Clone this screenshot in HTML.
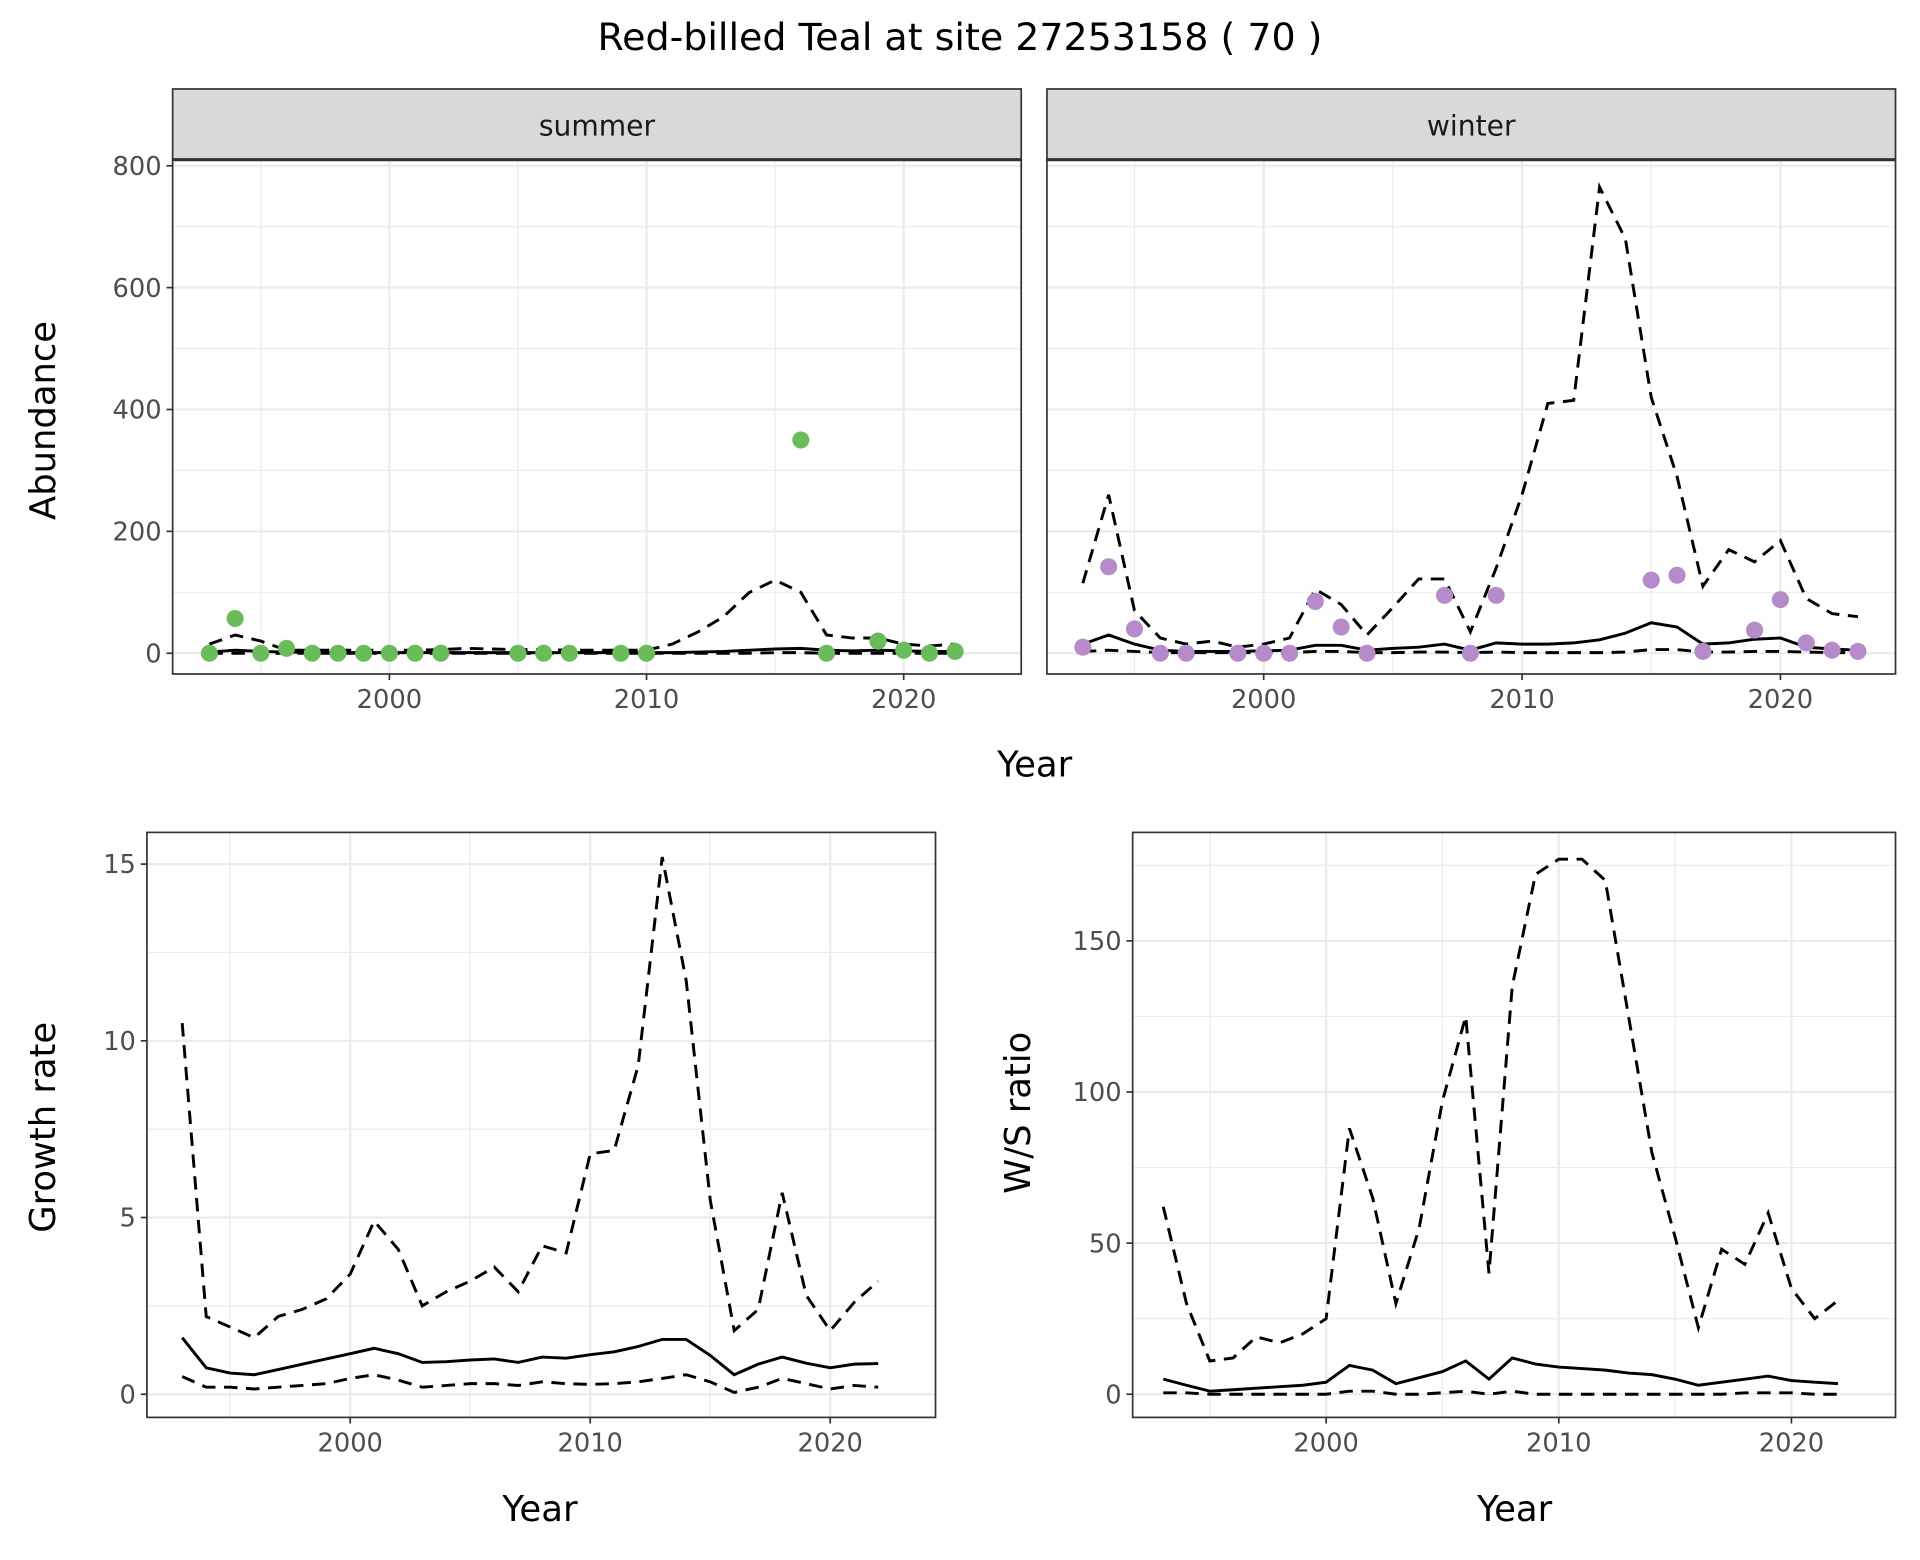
<!DOCTYPE html>
<html><head><meta charset="utf-8"><style>
html,body{margin:0;padding:0;background:#fff;}
svg{display:block;}
text{font-family:"DejaVu Sans","Liberation Sans",sans-serif;}
</style></head><body>
<svg id="chart" xmlns="http://www.w3.org/2000/svg" width="1920" height="1560" viewBox="0 0 1568 1280" preserveAspectRatio="none">
<rect x="0" y="0" width="1568" height="1280" fill="#fff"/>
<text x="784" y="41" text-anchor="middle" font-size="31" fill="#000">Red-billed Teal at site 27253158 ( 70 )</text>
</svg>
<script>
const summerYears=[1993,1994,1995,1996,1997,1998,1999,2000,2001,2002,2003,2004,2005,2006,2007,2008,2009,2010,2011,2012,2013,2014,2015,2016,2017,2018,2019,2020,2021,2022];
const summerUpper=[15,30,20,5,5,5,5,5,5,6,8,7,6,6,5,5,5,5,15,35,60,100,120,100,30,25,25,15,12,15];
const summerMean=[2,5,3,2,1,1,1,1,1,1,1,1,1,1,1,1,1,1,1,2,3,5,7,8,5,4,5,4,3,3];
const summerLower=[0,0,0,0,0,0,0,0,0,0,0,0,0,0,0,0,0,0,0,0,0,0,1,1,0,0,0,0,0,0];
const summerPtYears=[1993,1994,1995,1996,1997,1998,1999,2000,2001,2002,2005,2006,2007,2009,2010,2016,2017,2019,2020,2021,2022];
const summerPts=[0,57,0,8,0,0,0,0,0,0,0,0,0,0,0,350,0,20,5,0,3];
const winterYears=[1993,1994,1995,1996,1997,1998,1999,2000,2001,2002,2003,2004,2005,2006,2007,2008,2009,2010,2011,2012,2013,2014,2015,2016,2017,2018,2019,2020,2021,2022,2023];
const winterUpper=[115,260,70,25,15,20,10,15,25,105,80,30,75,122,122,35,140,260,410,415,765,680,420,290,110,170,150,185,90,65,60];
const winterMean=[15,30,15,5,3,3,3,4,5,13,13,5,8,10,15,5,17,15,15,17,22,33,50,43,15,17,23,25,10,7,5];
const winterLower=[3,5,3,1,1,1,1,1,1,3,3,1,1,2,2,1,2,1,1,1,1,2,6,6,2,2,3,3,2,1,1];
const winterPtYears=[1993,1994,1995,1996,1997,1999,2000,2001,2002,2003,2004,2007,2008,2009,2015,2016,2017,2019,2020,2021,2022,2023];
const winterPts=[10,142,40,0,0,0,0,0,85,43,0,95,0,95,120,128,3,38,88,17,5,3];
const gYears=[1993,1994,1995,1996,1997,1998,1999,2000,2001,2002,2003,2004,2005,2006,2007,2008,2009,2010,2011,2012,2013,2014,2015,2016,2017,2018,2019,2020,2021,2022];
const growthUpper=[10.5,2.2,1.9,1.6,2.2,2.4,2.7,3.4,4.9,4.1,2.5,2.9,3.2,3.6,2.9,4.2,4.0,6.8,6.9,9.3,15.2,11.7,5.5,1.8,2.4,5.7,2.8,1.8,2.6,3.2];
const growthMean=[1.6,0.75,0.6,0.55,0.7,0.85,1.0,1.15,1.3,1.15,0.9,0.92,0.97,1.0,0.9,1.05,1.02,1.12,1.2,1.35,1.55,1.55,1.1,0.55,0.85,1.05,0.88,0.75,0.85,0.87];
const growthLower=[0.5,0.2,0.2,0.15,0.2,0.25,0.3,0.45,0.55,0.4,0.2,0.25,0.3,0.3,0.25,0.35,0.3,0.28,0.3,0.35,0.45,0.55,0.35,0.05,0.2,0.45,0.3,0.15,0.25,0.2];
const wsUpper=[62,30,11,12,19,17,20,25,88,65,30,55,97,125,40,135,172,177,177,170,125,80,52,22,48,43,60,35,25,31];
const wsMean=[5,3,1,1.5,2,2.5,3,4,9.5,8,3.5,5.5,7.5,11,5,12,10,9,8.5,8,7,6.5,5,3,4,5,6,4.5,4,3.5];
const wsLower=[0.5,0.5,0,0,0,0,0,0,1,1,0,0,0.5,1,0,1,0,0,0,0,0,0,0,0,0,0.5,0.5,0.5,0,0];
const abTicks=[0,200,400,600,800];
const grTicks=[0,5,10,15];
const wsTicks=[0,50,100,150];
const yearTicks=[2000,2010,2020];

const svg=document.getElementById('chart');
const NS='http://www.w3.org/2000/svg';
function el(tag,attrs,parent){const e=document.createElementNS(NS,tag);for(const k in attrs)e.setAttribute(k,attrs[k]);(parent||svg).appendChild(e);return e;}
function lin(d0,d1,r0,r1){return v=>r0+(v-d0)*(r1-r0)/(d1-d0);}

function panel(name,x0,x1,y0,y1,xs,ys,yt,showY,minorY){
  const g=el('g',{});
  
  
  el('rect',{x:x0,y:y0,width:x1-x0,height:y1-y0,fill:'#fff'},g);
  [1995,2005,2015].forEach(v=>el('line',{x1:xs(v),x2:xs(v),y1:y0,y2:y1,stroke:'#ebebeb','stroke-width':0.9},g));
  minorY.forEach(v=>el('line',{x1:x0,x2:x1,y1:ys(v),y2:ys(v),stroke:'#ebebeb','stroke-width':0.9},g));
  yearTicks.forEach(v=>el('line',{x1:xs(v),x2:xs(v),y1:y0,y2:y1,stroke:'#ebebeb','stroke-width':1.8},g));
  yt.forEach(v=>el('line',{x1:x0,x2:x1,y1:ys(v),y2:ys(v),stroke:'#ebebeb','stroke-width':1.8},g));
  yearTicks.forEach(v=>{
    el('line',{x1:xs(v),x2:xs(v),y1:y1,y2:y1+5,stroke:'#333','stroke-width':1.4});
    const t=el('text',{x:xs(v),y:y1+28,'text-anchor':'middle','font-size':21,fill:'#4d4d4d'});
    
    
    t.textContent=v;
  });
  if(showY) yt.forEach(v=>{
    el('line',{x1:x0-5,x2:x0,y1:ys(v),y2:ys(v),stroke:'#333','stroke-width':1.4});
    const t=el('text',{x:x0-9,y:ys(v)+7.5,'text-anchor':'end','font-size':21,fill:'#4d4d4d'});
    
    
    t.textContent=v;
  });
  return g;
}
function border(x0,x1,y0,y1){el('rect',{x:x0,y:y0,width:x1-x0,height:y1-y0,fill:'none',stroke:'#333','stroke-width':1.4});}
function line(g,name,xs,ys,years,vals,dashed){
  const p=el('path',{d:years.map((y,i)=>(i?'L':'M')+xs(y).toFixed(1)+' '+ys(vals[i]).toFixed(1)).join(' '),fill:'none',stroke:'#000','stroke-width':2.4,'stroke-dasharray':dashed?'11 7':'none'},g);
  
  
}
function pts(g,name,xs,ys,years,vals,col){
  years.forEach((y,i)=>{
    const c=el('circle',{cx:xs(y),cy:ys(vals[i]),r:7,fill:col},g);
    
    
  });
}
function strip(name,x0,x1,label){
  const r=el('rect',{x:x0,y:73,width:x1-x0,height:58,fill:'#d9d9d9',stroke:'#333','stroke-width':1.4});
  
  
  el('line',{x1:x0,x2:x1,y1:131,y2:131,stroke:'#333','stroke-width':2.6});
  const t=el('text',{x:(x0+x1)/2,y:111,'text-anchor':'middle','font-size':23,fill:'#1a1a1a'});
  
  
  t.textContent=label;
}
function label(name,x,y,txt,rot){
  const t=el('text',{x:x,y:y,'text-anchor':'middle','font-size':29,fill:'#000',transform:rot?`rotate(-90 ${x} ${y})`:''});
  
  
  t.textContent=txt;
}

{const xs=lin(2000,2010,318,528),ys=lin(0,800,536,136);
 const g=panel('summer-panel',141,834,131,553,xs,ys,abTicks,true,[100,300,500,700]);
 line(g,'summer-upper',xs,ys,summerYears,summerUpper,true);
 line(g,'summer-lower',xs,ys,summerYears,summerLower,true);
 line(g,'summer-mean',xs,ys,summerYears,summerMean,false);
 pts(g,'summer-point',xs,ys,summerPtYears,summerPts,'#6abb59');
 border(141,834,131,553);strip('summer-strip',141,834,'summer');}
{const xs=lin(2000,2010,1032,1243),ys=lin(0,800,536,136);
 const g=panel('winter-panel',855,1548,131,553,xs,ys,abTicks,false,[100,300,500,700]);
 line(g,'winter-upper',xs,ys,winterYears,winterUpper,true);
 line(g,'winter-lower',xs,ys,winterYears,winterLower,true);
 line(g,'winter-mean',xs,ys,winterYears,winterMean,false);
 pts(g,'winter-point',xs,ys,winterPtYears,winterPts,'#b68bc9');
 border(855,1548,131,553);strip('winter-strip',855,1548,'winter');}
{const xs=lin(2000,2010,286,482),ys=lin(0,15,1144,709);
 const g=panel('growth-panel',120,764,683,1163,xs,ys,grTicks,true,[2.5,7.5,12.5]);
 line(g,'growth-upper',xs,ys,gYears,growthUpper,true);
 line(g,'growth-lower',xs,ys,gYears,growthLower,true);
 line(g,'growth-mean',xs,ys,gYears,growthMean,false);
 border(120,764,683,1163);}
{const xs=lin(2000,2010,1083,1273),ys=lin(0,150,1144,772);
 const g=panel('ws-panel',925,1548,683,1163,xs,ys,wsTicks,true,[25,75,125,175]);
 line(g,'ws-upper',xs,ys,gYears,wsUpper,true);
 line(g,'ws-lower',xs,ys,gYears,wsLower,true);
 line(g,'ws-mean',xs,ys,gYears,wsMean,false);
 border(925,1548,683,1163);}

label('top-x-axis-title',845,637,'Year',false);
label('abundance-y-axis-title',45,345,'Abundance',true);
label('growth-x-axis-title',441,1248,'Year',false);
label('growth-y-axis-title',45,925,'Growth rate',true);
label('ws-x-axis-title',1237,1248,'Year',false);
label('ws-y-axis-title',841,913,'W/S ratio',true);
</script>
</body></html>
